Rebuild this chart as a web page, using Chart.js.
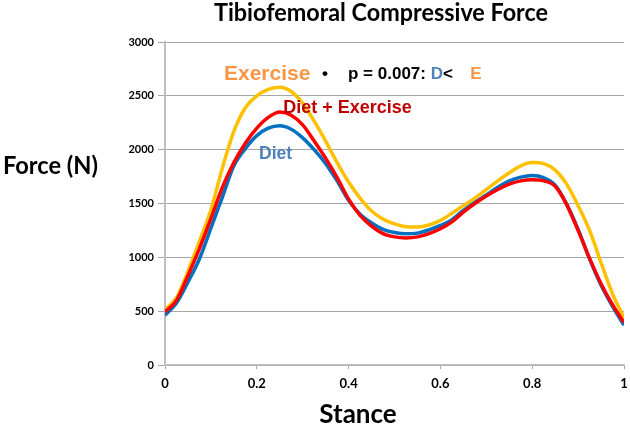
<!DOCTYPE html>
<html><head><meta charset="utf-8">
<script src="https://cdn.jsdelivr.net/npm/chart.js@4"></script>
<style>html,body{margin:0;padding:0;background:#fff;}#wrap{width:630px;height:428px;}</style>
</head><body><div id="wrap"><canvas id="c" width="630" height="428"></canvas></div>
<script>
// Stance (fraction of stance phase)
const stance = [0,0.025,0.05,0.075,0.1,0.125,0.15,0.175,0.2,0.225,0.25,0.275,0.3,0.325,0.35,0.375,0.4,0.425,0.45,0.475,0.5,0.525,0.55,0.575,0.6,0.625,0.65,0.675,0.7,0.725,0.75,0.775,0.8,0.825,0.85,0.875,0.9,0.925,0.95,0.975,1.0];
// Tibiofemoral compressive force (N)
const exercise = [515,625,870,1150,1440,1830,2170,2390,2500,2560,2580,2540,2430,2265,2080,1880,1700,1550,1430,1355,1310,1285,1282,1300,1343,1410,1480,1550,1630,1710,1785,1850,1880,1870,1810,1680,1480,1250,950,660,440];
const dietExercise = [492,600,830,1080,1360,1650,1880,2060,2200,2300,2350,2320,2230,2080,1920,1740,1540,1390,1290,1220,1190,1180,1190,1220,1265,1330,1420,1500,1570,1630,1680,1710,1720,1710,1660,1490,1250,990,755,560,395];
const diet = [462,575,770,985,1270,1560,1850,2010,2130,2200,2222,2190,2110,2000,1870,1710,1530,1400,1320,1260,1230,1218,1225,1255,1296,1350,1435,1510,1580,1650,1710,1745,1760,1740,1670,1495,1260,985,740,545,370];
const xTickLabels = ['0','0.2','0.4','0.6','0.8','1'];
const yTickLabels = ['0','500','1000','1500','2000','2500','3000'];

const pts = arr => arr.map((v,i)=>({x:stance[i], y:v}));

function txt(ctx, s, x, y, font, color, align, maxW){
  ctx.save();
  ctx.font = font; ctx.fillStyle = color; ctx.textBaseline = 'alphabetic'; ctx.textAlign = 'left';
  const w = ctx.measureText(s).width;
  const sx = (maxW && w > maxW) ? maxW / w : 1;
  const left = align === 'center' ? x - w*sx/2 : (align === 'right' ? x - w*sx : x);
  ctx.translate(left, y); ctx.scale(sx, 1); ctx.fillText(s, 0, 0);
  ctx.restore();
  return w * sx;
}

const textPlugin = {
  id: 'texts',
  afterDraw(chart){
    const ctx = chart.ctx, xs = chart.scales.x, ys = chart.scales.y;
    txt(ctx, 'Tibiofemoral Compressive Force', 381, 21, 'bold 24px Lato', '#000', 'center', 334);
    txt(ctx, 'Force (N)', 3, 174, 'bold 24px Lato', '#000', 'left', 95);
    txt(ctx, 'Stance', 358, 423, 'bold 26px Lato', '#000', 'center', 80);
    // annotations anchored to data coordinates
    const X = v => xs.getPixelForValue(v), Y = v => ys.getPixelForValue(v);
    txt(ctx, 'Exercise', X(0.1285), Y(2647), 'bold 21px "Liberation Sans"', '#F79646', 'left');
    txt(ctx, '\u2022', X(0.3486), Y(2660), 'bold 17px "Liberation Sans"', '#000', 'center');
    let px = X(0.3987), py = Y(2660);
    px += txt(ctx, 'p = 0.007: ', px, py, 'bold 17px "Liberation Sans"', '#000', 'left');
    px += txt(ctx, 'D', px, py, 'bold 17px "Liberation Sans"', '#4F81BD', 'left');
    px += txt(ctx, '<', px, py, 'bold 17px "Liberation Sans"', '#000', 'left');
    txt(ctx, 'E', X(0.665), py, 'bold 17px "Liberation Sans"', '#F79646', 'left');
    txt(ctx, 'Diet + Exercise', X(0.2575), Y(2340), 'bold 18px "Liberation Sans"', '#C00000', 'left', 129);
    txt(ctx, 'Diet', X(0.205), Y(1915), 'bold 17.5px "Liberation Sans"', '#4F81BD', 'left', 34);
  }
};

new Chart(document.getElementById('c'), {
  type: 'line',
  data: {
    datasets: [
      {label:'Diet + Exercise', data: pts(dietExercise), borderColor:'#FF0000', order:1},
      {label:'Diet', data: pts(diet), borderColor:'#0070C0', order:2},
      {label:'Exercise', data: pts(exercise), borderColor:'#FFC000', order:3}
    ].map(d => Object.assign(d, {borderWidth:3.5, pointRadius:0, fill:false, cubicInterpolationMode:'monotone'}))
  },
  options: {
    responsive: false, devicePixelRatio: 1, animation: false,
    layout: {padding: {top: 42, right: 6, bottom: 0, left: 0}},
    plugins: {legend: {display:false}, tooltip: {enabled:false}, title:{display:false}},
    scales: {
      x: {
        type: 'linear', min: 0, max: 1,
        afterFit(s){ s.height = 63; s.paddingRight = 0; s.paddingLeft = 0; },
        ticks: {stepSize: 0.2, padding: 7, color:'#000', font:{family:'Lato', size:13, weight:'bold'},
          callback: (v, i) => xTickLabels[i]},
        grid: {drawOnChartArea: false, tickLength: 4, color:'#A6A6A6', lineWidth:1},
        border: {color:'#BFBFBF', width:1.5}
      },
      y: {
        min: 0, max: 3000,
        afterFit(s){ s.width = 165; },
        ticks: {stepSize: 500, padding: 4, color:'#000', font:{family:'Lato', size:11, weight:'bold'},
          callback: (v, i) => yTickLabels[i]},
        grid: {color:'#A6A6A6', lineWidth:1, tickLength:7},
        border: {color:'#BFBFBF', width:2}
      }
    }
  },
  plugins: [textPlugin]
});
</script>
</body></html>
